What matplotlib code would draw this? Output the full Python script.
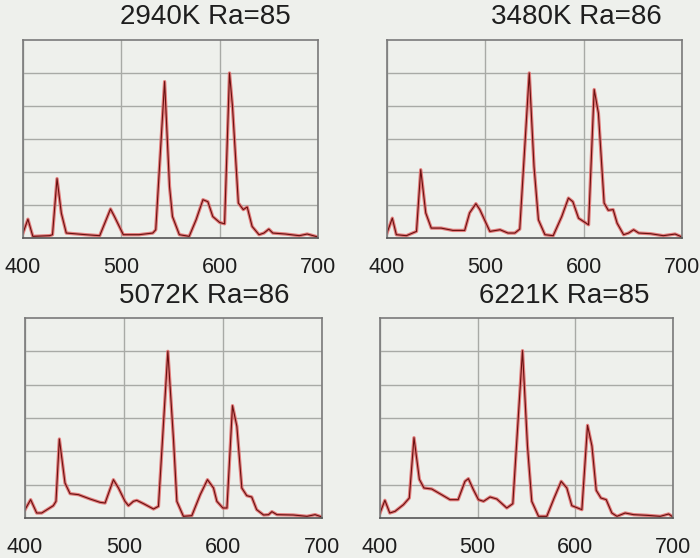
import matplotlib.pyplot as plt
import numpy as np

plt.rcParams['font.family'] = ['Liberation Sans', 'DejaVu Sans']

# spectra, y in grid units (6 = top of frame)
wl1 = [400,405,410,427,430,434.6,439,444,464,478,489,493,502,518,532,535,544,549,552,559,569,576,583,588,593,600,605,610,613,619,624,628,633,640,645,650,654,667,681,689,700]
s1 = [0.15,0.57,0.05,0.07,0.1,1.8,0.75,0.15,0.1,0.07,0.88,0.65,0.1,0.1,0.15,0.25,4.74,1.56,0.65,0.1,0.05,0.55,1.16,1.1,0.65,0.47,0.43,5.0,4.0,1.06,0.86,0.94,0.35,0.1,0.15,0.27,0.15,0.12,0.07,0.12,0.03]

wl2 = [400,405.4,409.5,419.7,430,434.3,439.4,445,455,467,479,484,490.4,494.4,504.6,515,523,530,535,544.7,549.5,554,560.6,569,577.7,584.5,589,594.8,605,610.7,615,620.8,625,630,634,640.6,645.7,650.8,656,668,681,693,700]
s2 = [0.15,0.6,0.1,0.07,0.2,2.07,0.76,0.3,0.3,0.23,0.23,0.76,1.04,0.86,0.2,0.25,0.15,0.15,0.27,5.0,2.17,0.55,0.1,0.07,0.65,1.21,1.1,0.6,0.4,4.5,3.78,1.06,0.84,0.86,0.45,0.1,0.15,0.25,0.15,0.13,0.07,0.12,0.03]

wl3 = [400,405.7,411.8,416.9,428.6,431.3,434.7,440.4,445.5,454,465.7,475.8,480.9,489.3,494.4,501,504.5,509.5,512.9,519.7,529.8,534.8,544.3,550,553.4,560,568.5,577,584.3,590.4,593.8,599.9,604,609.6,614,619,624,629,634,641,646,649.4,654.5,671,684.8,693,700]
s3 = [0.25,0.55,0.15,0.15,0.37,0.5,2.37,1.05,0.73,0.7,0.57,0.47,0.45,1.15,0.9,0.5,0.37,0.5,0.53,0.43,0.27,0.35,5.0,2.35,0.5,0.05,0.07,0.7,1.15,0.9,0.5,0.3,0.3,3.37,2.75,0.9,0.67,0.63,0.25,0.09,0.1,0.19,0.1,0.09,0.05,0.1,0.03]

wl4 = [400,405,410,415.4,424,430,434.8,440.3,445,453,463,471.7,480,487,490.5,495.6,500.8,506,512.7,519.6,529.8,536,545.9,551,555.4,562.3,570.8,578.3,585.5,591.3,596.4,606.7,612.5,617,621.4,626.2,631.6,637.4,642.6,651,659.7,673.3,687,695.5,700]
s4 = [0.15,0.53,0.15,0.2,0.4,0.6,2.41,1.16,0.9,0.87,0.7,0.55,0.55,1.1,1.18,0.85,0.55,0.5,0.63,0.57,0.3,0.43,5.02,2.16,0.5,0.05,0.05,0.6,1.1,0.9,0.37,0.25,2.78,2.16,0.83,0.6,0.55,0.15,0.05,0.15,0.1,0.08,0.05,0.12,0.03]

titles = ['2940K Ra=85', '3480K Ra=86', '5072K Ra=86', '6221K Ra=85']
ticks = [400, 500, 600, 700]

bg = '#eef0ec'
fig = plt.figure(figsize=(7, 5.58), dpi=100, facecolor=bg)
W, H = 700, 558

# axes boxes in pixels: left, top, right, bottom ; title center x, y
boxes = [(23, 40, 318, 238, 205, 17),
         (387, 40, 682, 238, 576, 17),
         (25, 318, 322, 518, 204, 296),
         (380, 318, 673, 518, 564, 296)]

for (l, t, r, b, tx, ty), x, y, title in zip(boxes, [wl1, wl2, wl3, wl4], [s1, s2, s3, s4], titles):
    ax = fig.add_axes([l/W, 1-b/H, (r-l)/W, (b-t)/H])
    ax.set_facecolor(bg)
    ax.plot(x, y, color='#e06a6a', lw=2.4, alpha=0.85)
    ax.plot(x, y, color='#6a1010', lw=0.8)
    ax.set_xlim(400, 700)
    ax.set_ylim(0, 6)
    ax.set_xticks(ticks)
    ax.set_yticks([1, 2, 3, 4, 5])
    ax.set_yticklabels([])
    ax.grid(True, color='#a8aaa6', lw=1.0)
    ax.tick_params(axis='x', length=0, pad=14, labelsize=15.5, labelcolor='#1e1e1e')
    ax.tick_params(axis='y', length=0)
    for sp in ax.spines.values():
        sp.set_color('#7a7a7a')
        sp.set_linewidth(1.2)
    ax.spines['bottom'].set_color('#555555')
    fig.text(tx/W, 1-ty/H, title, ha='center', va='center', fontsize=20, color='#1e1e1e')

plt.savefig('out.png', dpi=100, facecolor=bg)
